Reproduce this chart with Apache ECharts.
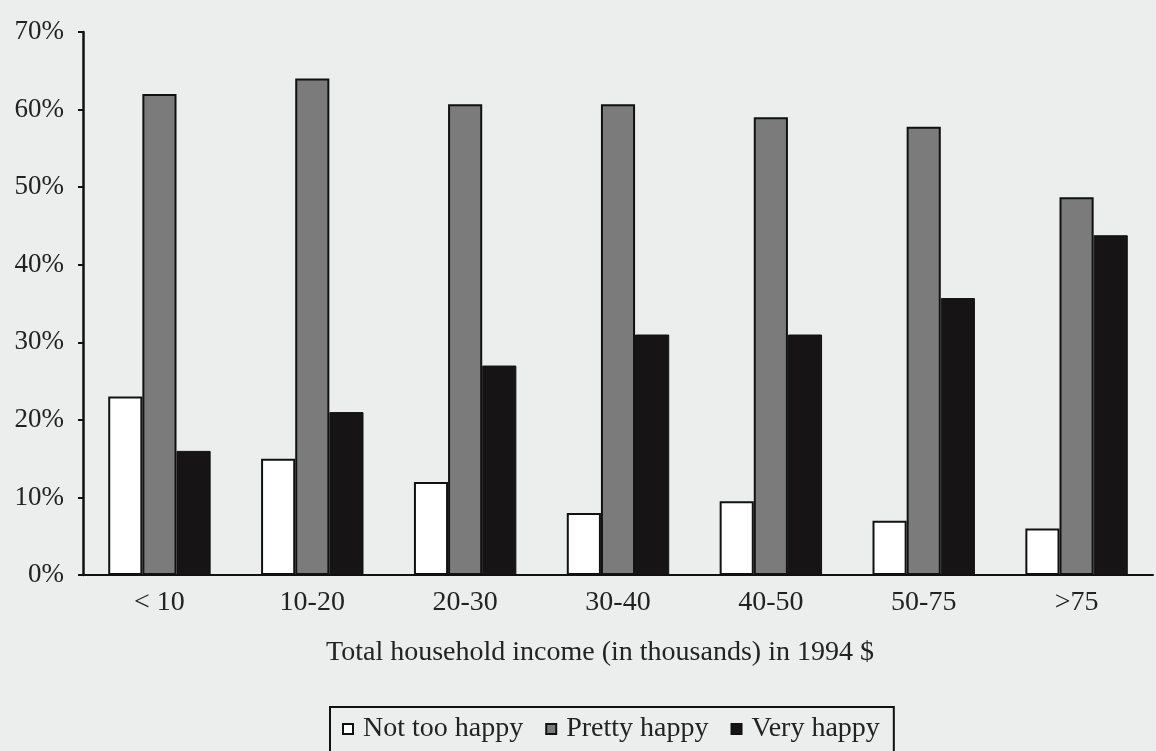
<!DOCTYPE html>
<html>
<head>
<meta charset="utf-8">
<title>Happiness by household income</title>
<script src="https://cdn.jsdelivr.net/npm/echarts@6/dist/echarts.min.js"></script>
<style>
    html, body { margin: 0; padding: 0; background: #eceeee; }
    #chart { width: 1156px; height: 751px; }
</style>
</head>
<body>
<div id="chart"></div>
<script>
// income groups (thousands, 1994 $)
const categories = ['< 10', '10-20', '20-30', '30-40', '40-50', '50-75', '>75'];

// share of people in each group, %
const notTooHappy = [23, 15, 12, 8, 9.5, 7, 6];
const prettyHappy = [62, 64, 60.7, 60.7, 59, 57.8, 48.7];
const veryHappy   = [16, 21, 27, 31, 31, 35.7, 43.8];

const seriesNames = ['Not too happy', 'Pretty happy', 'Very happy'];

const serif = '"Liberation Serif", "Times New Roman", serif';

//////////////////////////////////////////////////////////////////
// [ Bar styles ]

const barStyles = [
    { color: '#ffffff', borderColor: '#111', borderWidth: 2 },
    { color: '#7b7b7b', borderColor: '#111', borderWidth: 2 },
    { color: '#161414', borderColor: '#111', borderWidth: 1 }
];

const chart = echarts.init(document.getElementById('chart'));

const options = {
    backgroundColor: '#eceeee',
    animation: false,
    grid: {
        left: 83,
        right: 3,
        top: 32,
        bottom: 176
    },
    legend: {
        left: 330,
        top: 707,
        padding: [8, 14, 12, 12],
        borderColor: '#111',
        borderWidth: 2,
        itemWidth: 10,
        itemHeight: 10,
        itemGap: 22,
        textStyle: { fontFamily: serif, fontSize: 28, color: '#222', padding: [0, 0, 0, 5] },
        data: seriesNames.map((name, i) => ({
            name: name,
            icon: 'rect',
            itemStyle: { color: barStyles[i].color, borderColor: '#111', borderWidth: 2 }
        }))
    },
    xAxis: {
        type: 'category',
        data: categories,
        name: 'Total household income (in thousands) in 1994 $',
        nameLocation: 'middle',
        nameGap: 64,
        nameTextStyle: { fontFamily: serif, fontSize: 28, color: '#222', padding: [0, 36, 0, 0] },
        axisLine: { lineStyle: { color: '#111', width: 2 } },
        axisTick: { show: false },
        axisLabel: { fontFamily: serif, fontSize: 28, color: '#222', margin: 14 }
    },
    yAxis: {
        type: 'value',
        min: 0,
        max: 70,
        interval: 10,
        axisLine: { show: true, lineStyle: { color: '#111', width: 2.5 } },
        axisTick: { show: true, length: 5, lineStyle: { color: '#111', width: 2 } },
        splitLine: { show: false },
        axisLabel: {
            fontFamily: serif,
            fontSize: 27,
            color: '#222',
            margin: 19,
            formatter: '{value}%'
        }
    },
    series: [notTooHappy, prettyHappy, veryHappy].map((values, i) => ({
        name: seriesNames[i],
        type: 'bar',
        data: values,
        barGap: '0%',
        barCategoryGap: '33%',
        itemStyle: barStyles[i]
    }))
};

chart.setOption(options);
</script>
</body>
</html>
